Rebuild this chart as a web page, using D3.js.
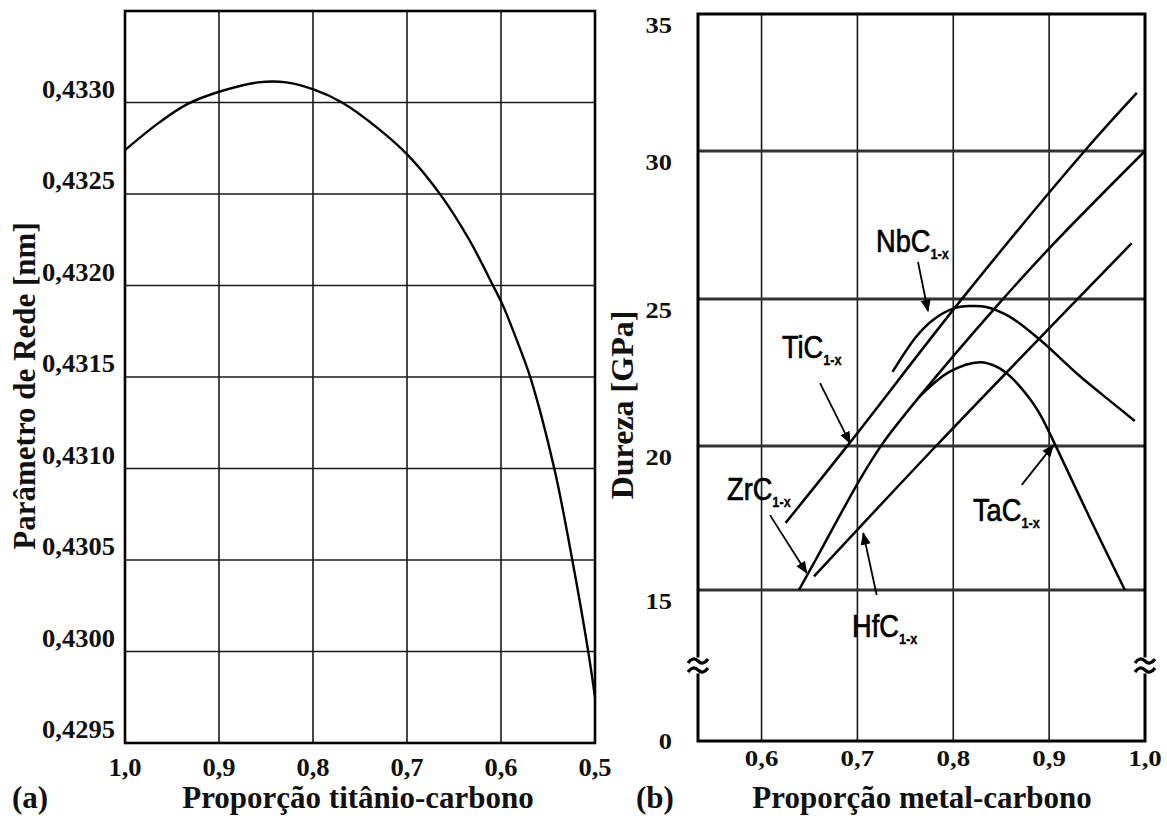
<!DOCTYPE html>
<html>
<head>
<meta charset="utf-8">
<script src="https://cdn.jsdelivr.net/npm/d3@7"></script>
<style>
    body { margin: 0; background: #fff; }
    svg { display: block; }
</style>
</head>
<body>
<div id="chart"></div>
<script>
// (a) lattice parameter of TiC vs Ti/C ratio
const tiRatio = [1.0, 0.9638, 0.9342, 0.899, 0.858, 0.8284, 0.7988, 0.7691, 0.7312, 0.6986,
    0.6635, 0.6338, 0.6085, 0.5979, 0.5831, 0.5683, 0.5429, 0.5238, 0.5069, 0.5];
const latticeParam = [0.43274, 0.43289, 0.43299, 0.43306, 0.43311, 0.43311, 0.43307, 0.43300, 0.43286, 0.43271,
    0.43249, 0.43225, 0.43200, 0.43189, 0.43170, 0.43149, 0.43099, 0.43049, 0.42999, 0.42975];
const leftXTicks = [1.0, 0.9, 0.8, 0.7, 0.6, 0.5];
const leftYTicks = [0.4295, 0.4300, 0.4305, 0.4310, 0.4315, 0.4320, 0.4325, 0.4330];

// (b) hardness of carbides vs metal/carbon ratio
const nbcX = [0.7366, 0.7611, 0.7785, 0.8004, 0.8177, 0.8343, 0.8587, 0.8901, 0.9319, 0.9667, 0.9894];
const nbcY = [22.52, 23.71, 24.28, 24.68, 24.76, 24.73, 24.40, 23.62, 22.38, 21.45, 20.85];
const ticX = [0.6251, 0.6913, 0.8082, 0.9372, 0.9915];
const ticY = [17.33, 20.08, 24.97, 30.01, 32.12];
const zrcX = [0.639, 0.6565, 0.7018, 0.7262, 0.7645, 0.8448, 0.9033, 1.0];
const zrcY = [15.0, 16.05, 18.79, 20.08, 21.67, 24.74, 26.82, 30.0];
const hfcX = [0.6547, 0.782, 0.986];
const hfcY = [15.47, 20.0, 26.88];
const tacX = [0.7645, 0.7959, 0.828, 0.845, 0.86, 0.88, 0.8901, 0.9075, 0.9424, 0.979];
const tacY = [21.67, 22.52, 22.85, 22.7, 22.35, 21.6, 21.1, 19.96, 17.5, 15.0];
const rightXTicks = [0.6, 0.7, 0.8, 0.9, 1.0];
const rightYTicks = [0, 15, 20, 25, 30, 35];
const rightGridY = [15, 20, 25, 30];

// curve labels and their pointer arrows (data coordinates of panel b)
const labelNames = ["NbC", "TiC", "ZrC", "HfC", "TaC"];
const labelX = [0.7194, 0.6213, 0.5640, 0.6944, 0.8206];
const labelY = [26.59, 22.99, 18.13, 10.33, 17.4];
const arrowFromX = [0.7632, 0.661, 0.6088, 0.7201, 0.8714];
const arrowFromY = [26.25, 22.14, 17.6, 14.5, 18.65];
const arrowToX = [0.7736, 0.6923, 0.6471, 0.7061, 0.9044];
const arrowToY = [24.59, 20.1, 15.59, 16.97, 20.03];

const width = 1167;
const height = 816;
const serif = "'Liberation Serif', 'Times New Roman', serif";
const sans = "'Liberation Sans', Arial, sans-serif";

const svg = d3.select("#chart").append("svg")
    .attr("width", width)
    .attr("height", height);

svg.append("defs").append("marker")
    .attr("id", "arrow")
    .attr("viewBox", "0 0 10 10")
    .attr("refX", 9)
    .attr("refY", 5)
    .attr("markerWidth", 7)
    .attr("markerHeight", 7)
    .attr("orient", "auto")
    .append("path")
    .attr("d", "M0,1 L10,5 L0,9 Z")
    .attr("fill", "#000");

function label(g, x, y, str, size, anchor, sx) {
    return g.append("text")
        .attr("transform", "translate(" + x + "," + y + ") scale(" + (sx || 1) + ",1)")
        .attr("text-anchor", anchor || "start")
        .attr("font-family", serif)
        .attr("font-weight", "bold")
        .attr("font-size", size)
        .attr("fill", "#111")
        .text(str);
}

const comma = v => d3.format(".1f")(v).replace(".", ",");
const comma4 = v => d3.format(".4f")(v).replace(".", ",");

// ---------- panel (a) ----------
const xL = d3.scaleLinear().domain([1.0, 0.5]).range([125, 595]);
const yL = d3.scaleLinear().domain([0.4295, 0.4335]).range([743, 11]);
const gA = svg.append("g");

gA.selectAll(".vgrid")
    .data(leftXTicks)
    .enter()
    .append("line")
    .attr("x1", d => xL(d)).attr("x2", d => xL(d))
    .attr("y1", yL.range()[0]).attr("y2", yL.range()[1])
    .attr("stroke", "#1a1a1a")
    .attr("stroke-width", 1.6);

gA.selectAll(".hgrid")
    .data(leftYTicks)
    .enter()
    .append("line")
    .attr("x1", xL.range()[0]).attr("x2", xL.range()[1])
    .attr("y1", d => yL(d)).attr("y2", d => yL(d))
    .attr("stroke", "#1a1a1a")
    .attr("stroke-width", 1.6);

gA.append("rect")
    .attr("x", xL(1.0)).attr("y", yL(0.4335))
    .attr("width", xL(0.5) - xL(1.0))
    .attr("height", yL(0.4295) - yL(0.4335))
    .attr("fill", "none")
    .attr("stroke", "#000")
    .attr("stroke-width", 2.6);

leftYTicks.forEach(v => label(gA, 115, yL(v) - 5, comma4(v), 26, "end", 1.02));
leftXTicks.forEach(v => label(gA, xL(v), 776, comma(v), 26, "middle", 1.02));

const lineA = d3.line()
    .x(d => xL(d[0]))
    .y(d => yL(d[1]))
    .curve(d3.curveCatmullRom);

gA.append("path")
    .attr("d", lineA(d3.zip(tiRatio, latticeParam)))
    .attr("fill", "none")
    .attr("stroke", "#000")
    .attr("stroke-width", 2.4);

label(gA, 0, 0, "Parâmetro de Rede [nm]", 31, "middle")
    .attr("transform", "translate(35,386) rotate(-90)");
label(gA, 358, 808, "Proporção titânio-carbono", 31, "middle");
label(gA, 12, 808, "(a)", 31, "start");

// ---------- panel (b) ----------
const xR = d3.scaleLinear().domain([0.5337, 1.0]).range([698, 1145]);
const yR = d3.scaleLinear().domain([0, 15, 20, 25, 30, 35]).range([741, 590, 446, 299, 151, 14]);
const gB = svg.append("g");

gB.selectAll(".vgrid")
    .data(rightXTicks)
    .enter()
    .append("line")
    .attr("x1", d => xR(d)).attr("x2", d => xR(d))
    .attr("y1", yR(0)).attr("y2", yR(35))
    .attr("stroke", "#1a1a1a")
    .attr("stroke-width", 1.6);

gB.selectAll(".hgrid")
    .data(rightGridY)
    .enter()
    .append("line")
    .attr("x1", xR(0.5337)).attr("x2", xR(1.0))
    .attr("y1", d => yR(d)).attr("y2", d => yR(d))
    .attr("stroke", "#333")
    .attr("stroke-width", 2.8);

gB.append("rect")
    .attr("x", xR(0.5337)).attr("y", yR(35))
    .attr("width", xR(1.0) - xR(0.5337))
    .attr("height", yR(0) - yR(35))
    .attr("fill", "none")
    .attr("stroke", "#000")
    .attr("stroke-width", 3);

// axis break marks at both vertical edges
[0.5337, 1.0].forEach(v => {
    const bx = xR(v), by = yR(7.5);
    gB.append("rect")
        .attr("x", bx - 3).attr("y", by - 8)
        .attr("width", 6).attr("height", 16)
        .attr("fill", "#fff");
    [-4.5, 4.5].forEach(off => {
        gB.append("path")
            .attr("d", "M" + (bx - 10) + "," + (by + off + 2) +
                " q5,-7 10,-2 t10,-2")
            .attr("fill", "none")
            .attr("stroke", "#000")
            .attr("stroke-width", 3.2);
    });
});

rightYTicks.forEach(v => label(gB, 672, yR(v) + (v === 0 ? 8 : 18.5), String(v), 24, "end", 1.1));
rightXTicks.forEach(v => label(gB, xR(v), 766, comma(v), 24, "middle", 1.12));

const lineB = d3.line()
    .x(d => xR(d[0]))
    .y(d => yR(d[1]))
    .curve(d3.curveCatmullRom);

[[nbcX, nbcY], [ticX, ticY], [zrcX, zrcY], [hfcX, hfcY], [tacX, tacY]].forEach(s => {
    gB.append("path")
        .attr("d", lineB(d3.zip(s[0], s[1])))
        .attr("fill", "none")
        .attr("stroke", "#000")
        .attr("stroke-width", 2.5);
});

labelNames.forEach((name, i) => {
    const t = gB.append("text")
        .attr("transform", "translate(" + xR(labelX[i]) + "," + yR(labelY[i]) + ") scale(0.85,1)")
        .attr("font-family", sans)
        .attr("font-size", 32)
        .attr("fill", "#000")
        .attr("stroke", "#000")
        .attr("stroke-width", 0.7);
    t.append("tspan").text(name);
    t.append("tspan")
        .attr("dy", 7)
        .attr("font-size", 15)
        .attr("font-weight", "bold")
        .attr("stroke-width", 0.3)
        .text("1-x");

    gB.append("line")
        .attr("x1", xR(arrowFromX[i])).attr("y1", yR(arrowFromY[i]))
        .attr("x2", xR(arrowToX[i])).attr("y2", yR(arrowToY[i]))
        .attr("stroke", "#000")
        .attr("stroke-width", 1.8)
        .attr("marker-end", "url(#arrow)");
});

label(gB, 0, 0, "Dureza [GPa]", 32, "middle")
    .attr("transform", "translate(633,405) rotate(-90)");
label(gB, 922, 808, "Proporção metal-carbono", 31, "middle");
label(gB, 636, 808, "(b)", 31, "start");
</script>
</body>
</html>
